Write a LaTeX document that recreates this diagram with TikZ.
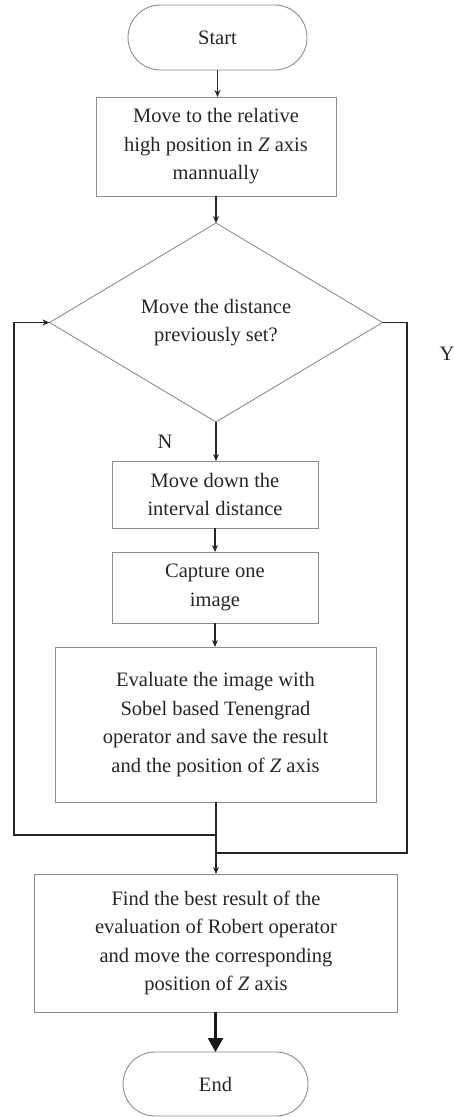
\documentclass[tikz,border=0pt]{standalone}
\usepackage{fontspec}
\setmainfont{Liberation Serif}
\usetikzlibrary{shapes.geometric,shapes.misc,arrows.meta}
\begin{document}
\begin{tikzpicture}[x=1pt,y=-1pt,
  every node/.style={font=\fontsize{20.5}{28.5}\selectfont, text=black!85, inner sep=0pt, outer sep=0pt},
  procbox/.style={draw=black!45, line width=0.9pt, rectangle, align=center},
  term/.style={draw=black!45, line width=0.9pt, rounded rectangle, align=center},
  decide/.style={draw=black!45, line width=0.9pt, diamond, align=center, aspect=1.67},
  conn/.style={draw=black!85, line width=1.2pt},
  arr/.style={conn, -{Stealth[length=7pt,width=6pt]}},
  bigarr/.style={draw=black!90, line width=2.4pt, -{Triangle[length=14pt,width=15pt]}}
]
\useasboundingbox (0,0) rectangle (454,1117);

\node[term, minimum width=179pt, minimum height=65pt] (start) at (217.5,37.5) {Start};
\node[procbox, minimum width=240pt, minimum height=99pt] (b1) at (216,146.5) {Move to the relative\\high position in \textit{Z} axis\\mannually};
\node[decide, minimum width=333pt, minimum height=199pt] (dia) at (216,322.5) {Move the distance\\previously set?};
\node[procbox, minimum width=206pt, minimum height=67pt] (b2) at (215,494.5) {Move down the\\interval distance};
\node[procbox, minimum width=206pt, minimum height=71pt] (b3) at (215,587.5) {Capture one\\image};
\node[procbox, minimum width=321pt, minimum height=155pt] (b4) at (215.5,724.5) {Evaluate the image with\\Sobel based Tenengrad\\operator and save the result\\and the position of \textit{Z} axis};
\node[procbox, minimum width=363pt, minimum height=138pt] (b5) at (216,943) {Find the best result of the\\evaluation of Robert operator\\and move the corresponding\\position of \textit{Z} axis};
\node[term, minimum width=185pt, minimum height=64pt] (end) at (215.5,1084) {End};

\node (ylab) at (447,354) {Y};
\node (nlab) at (165,442) {N};

\coordinate (j1) at (216,835);
\coordinate (L) at (14,835);
\coordinate (R) at (407,322.5);
\coordinate (j2) at (216,853);

\draw[arr] (start.south) -- (start.south |- b1.north);
\draw[arr] (b1.south) -- (dia.north);
\draw[arr] (dia.south) -- (dia.south |- b2.north);
\draw[arr] (b2.south) -- (b2.south |- b3.north);
\draw[arr] (b3.south) -- (b3.south |- b4.north);
\draw[arr] (b4.south -| j1) -- (j1) -- (L) |- (dia.west);
\draw[conn] (dia.east) -- (R) |- (j2);
\draw[arr] (j1) -- (b5.north -| j1);
\draw[bigarr] (b5.south -| end.north) -- (end.north);
\end{tikzpicture}
\end{document}
